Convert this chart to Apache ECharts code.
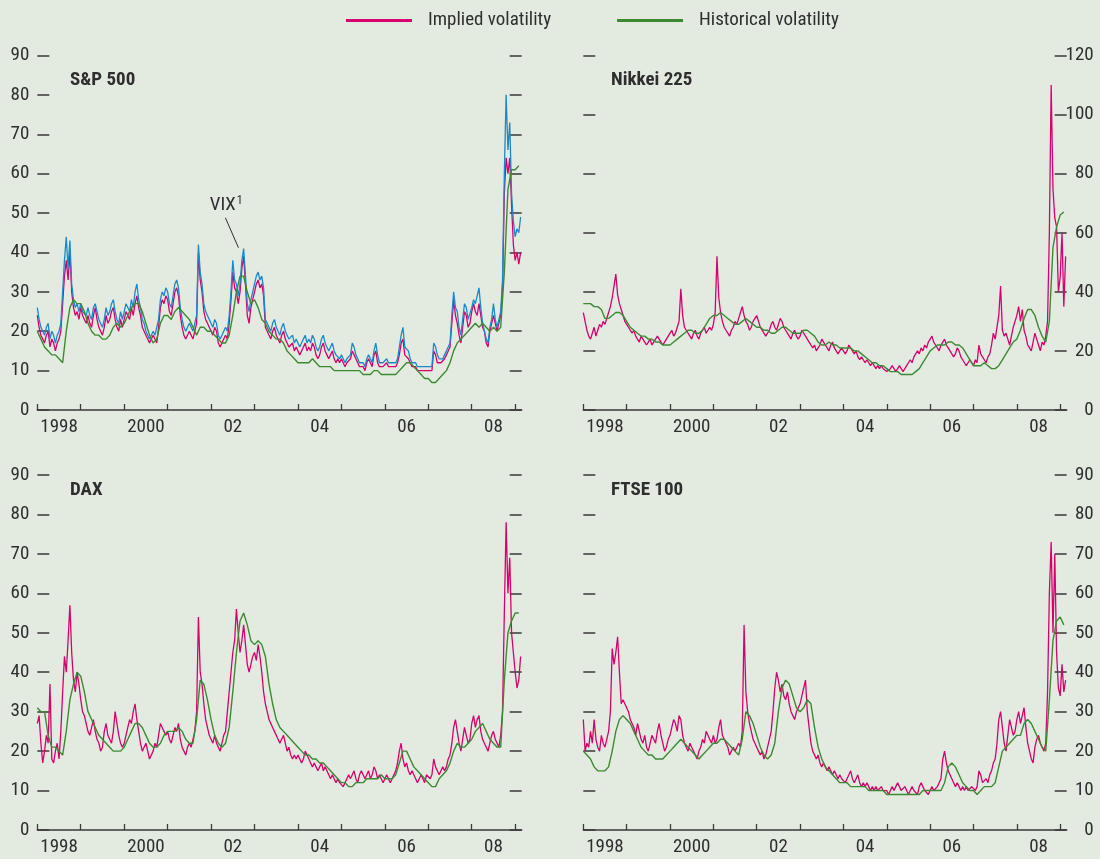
<!DOCTYPE html>
<html><head><meta charset="utf-8">
<script src="https://cdn.jsdelivr.net/npm/echarts@6/dist/echarts.min.js"></script>
<style>html,body{margin:0;padding:0;background:#e3ebe0}#c{width:1100px;height:859px}</style>
</head><body><div id="c"></div>
<script>
const FONT = '"Liberation Sans Narrow","Roboto Condensed","DejaVu Sans Condensed","Arial Narrow",sans-serif';
const MAG = '#d6006f', GRN = '#3b8a32', BLU = '#1c88c9', INK = '#2e2e2e', AX = '#3a3a3a';

const yearTicks = [1998,1999,2000,2001,2002,2003,2004,2005,2006,2007,2008,2009];
const tickLabelPos = [1998.5,2000.5,2002.5,2004.5,2006.5,2008.5];
const tickLabels = ['1998','2000','02','04','06','08'];
const panelTitles = ['S&P 500','Nikkei 225','DAX','FTSE 100'];
const legendNames = ['Implied volatility','Historical volatility'];

// implied: twice-monthly readings, Jan 1998 - Feb 2009
const spxImplied = [
24,21,19,18,17,19,20,16,18,17,15,17,18,20,27,34,38,33,40,30,26,24,25,23,
26,24,23,22,24,22,21,24,26,23,21,20,19,21,24,22,23,25,26,23,21,20,23,21,
23,25,24,23,26,24,27,29,26,24,21,20,19,18,17,18,19,18,17,21,26,28,27,29,
28,25,24,27,30,31,29,24,21,19,18,19,20,19,18,20,22,40,33,30,25,23,22,21,
21,19,21,20,17,16,17,18,19,18,22,28,35,31,30,27,30,36,39,32,24,22,26,28,
30,32,33,31,32,29,21,20,19,18,20,21,19,18,17,19,20,18,17,16,16,17,15,16,
15,14,15,16,17,15,16,15,17,16,14,13,14,16,17,15,14,13,14,15,13,12,13,12,
13,12,11,12,12,13,15,14,13,12,11,11,11,10,12,13,12,11,14,15,12,11,11,11,
11,12,11,11,11,11,11,12,14,17,18,14,14,13,12,11,11,11,10,10,10,10,10,10,
10,10,10,15,14,12,12,12,12,13,14,15,16,22,28,24,22,19,17,21,25,24,21,22,
25,27,25,24,27,24,21,20,17,16,20,22,24,22,20,20,24,31,55,64,60,64,52,42,
38,40,37,40];
const spxVix = [
26,23,21,20,19,21,22,18,20,19,17,19,20,22,30,38,44,36,43,32,28,26,27,25,
27,25,25,24,26,24,23,26,27,25,23,22,21,23,26,24,25,27,28,25,23,22,25,23,
25,27,26,25,28,26,30,32,28,26,23,22,20,19,18,19,20,19,19,23,28,30,29,31,
30,27,26,29,32,33,31,26,23,21,20,21,22,21,20,22,24,42,35,32,27,25,24,23,
23,21,23,22,19,18,19,20,21,20,24,30,38,33,32,29,32,38,41,34,27,25,28,30,
32,34,35,33,34,31,23,22,21,20,22,23,21,20,19,21,22,20,19,18,18,19,17,18,
17,16,17,18,19,17,18,17,19,18,16,15,16,18,19,17,16,15,16,17,15,14,14,13,
14,13,12,13,13,14,17,16,14,13,12,12,12,11,13,14,13,12,15,17,14,12,12,12,
12,13,12,12,12,12,12,13,16,19,21,16,16,15,13,12,12,12,11,11,11,11,11,11,
11,11,11,17,16,14,13,13,13,14,15,16,17,24,30,26,25,21,19,23,27,26,23,23,
26,28,27,29,31,26,22,20,18,17,21,23,27,23,21,21,25,33,60,80,66,73,55,48,
44,46,45,49];
const nkyImplied = [
33,30,27,25,24,26,28,25,27,29,28,30,29,31,33,35,38,42,46,39,36,34,32,30,
29,28,27,26,27,25,24,23,25,24,23,22,23,24,22,23,24,25,24,23,22,23,24,25,
26,27,25,26,28,30,41,32,28,27,26,25,24,26,27,25,24,26,27,28,26,27,28,27,
29,33,52,38,33,30,28,27,26,25,27,28,30,29,31,33,35,32,30,29,27,28,30,31,
32,30,28,27,26,25,26,27,29,30,28,27,29,31,30,28,27,26,25,24,26,27,25,24,
25,27,26,25,24,23,22,21,22,20,21,22,24,23,22,21,20,22,23,21,20,19,20,21,
20,19,20,22,21,20,19,20,18,17,18,17,16,17,16,15,16,15,14,15,14,15,14,14,
13,13,14,15,14,13,14,15,14,13,14,15,16,17,16,18,19,20,19,21,20,22,21,23,
24,25,23,22,21,20,22,23,24,22,21,20,19,18,19,21,20,18,17,16,15,16,17,16,
15,17,16,22,19,18,17,16,18,19,22,26,24,28,32,42,27,25,26,24,22,25,28,30,
32,35,30,34,27,25,22,21,20,23,26,24,22,20,23,22,25,30,60,110,75,65,62,40,
45,60,35,52];
const daxImplied = [
27,29,22,17,20,24,22,37,18,17,20,22,18,25,35,44,40,48,57,45,38,35,40,37,
33,30,29,27,25,24,26,28,25,23,22,20,21,25,27,24,23,22,25,30,27,24,22,21,
22,24,26,28,27,30,32,28,25,22,20,21,22,20,18,19,20,22,21,24,27,26,25,24,
25,23,22,24,26,25,27,23,21,20,19,21,22,21,23,25,30,54,40,37,32,28,26,24,
23,22,24,22,21,20,22,24,25,30,35,40,45,48,56,50,45,48,52,47,42,40,42,44,
45,43,47,44,40,35,32,30,28,27,26,25,24,23,22,23,24,22,20,21,19,18,19,18,
19,18,17,18,20,19,18,17,16,17,16,15,16,17,15,16,15,14,13,14,13,12,13,12,
12,11,12,13,14,13,14,15,13,12,14,15,14,13,14,15,13,14,16,15,13,14,13,12,
13,14,13,12,13,14,15,17,20,22,18,16,17,15,14,15,14,13,12,13,14,13,12,14,
14,13,14,18,16,15,14,15,16,15,16,18,19,22,26,28,25,22,20,23,26,24,22,23,
27,29,26,28,29,25,23,22,21,20,22,24,25,23,22,21,24,30,55,78,60,69,50,45,
40,36,38,44];
const ftseImplied = [
28,20,22,21,25,22,28,23,21,20,24,22,21,23,25,30,46,42,45,49,40,32,33,32,
31,30,28,27,26,24,27,25,23,22,24,21,20,22,24,23,22,25,27,24,22,20,21,23,
24,26,28,27,25,29,28,24,22,21,20,22,21,20,19,18,20,21,23,22,25,24,23,22,
24,22,23,26,28,24,23,22,21,19,20,21,20,21,22,21,25,52,35,30,27,25,23,22,
21,20,19,20,18,19,21,23,25,30,36,40,38,35,37,34,33,35,32,30,29,28,30,31,
32,34,36,38,30,26,22,20,19,18,19,17,16,17,16,15,16,15,14,15,14,13,14,13,
13,12,13,14,15,13,12,13,14,12,11,12,11,12,11,10,11,10,11,10,10,11,10,10,
10,9,10,11,10,11,12,11,10,10,11,10,9,10,11,10,10,9,11,12,11,10,10,9,
10,11,10,10,11,12,13,18,20,17,15,14,13,12,11,12,11,10,11,10,11,10,10,11,
11,10,11,15,14,12,12,13,12,14,15,17,18,22,28,30,26,22,20,24,28,26,24,25,
28,30,27,29,31,26,22,20,18,17,21,23,24,22,21,20,22,35,60,73,50,70,45,36,
34,42,35,38];

// historical: monthly readings, Jan 1998 - Feb 2009
const spxHist = [
20,18,16,15,14,14,13,12,20,26,28,27,
27,25,22,20,19,19,18,18,19,21,22,21,
22,24,26,27,27,25,22,19,17,18,22,24,
24,23,25,26,25,24,23,21,19,21,21,20,
20,19,18,17,17,19,24,30,34,34,30,27,
28,26,23,22,20,19,18,18,17,15,14,13,
12,12,12,12,13,12,11,11,11,11,10,10,
10,10,10,10,10,10,9,9,9,10,10,9,
9,9,9,9,10,11,12,12,11,10,9,8,
8,7,7,8,9,10,12,15,17,18,19,20,
21,22,21,22,21,20,21,20,21,35,56,61,
61,62];
const nkyHist = [
36,36,36,35,35,34,31,31,32,33,33,32,
30,28,27,26,25,25,24,24,23,23,22,22,
22,23,24,25,26,27,27,26,26,27,29,31,
32,32,33,32,31,30,29,29,30,31,30,29,
28,28,27,27,26,26,27,28,28,27,26,26,
26,27,27,26,25,23,22,22,23,22,22,21,
21,21,21,20,20,19,18,17,16,16,15,15,
14,13,13,13,12,12,12,12,13,14,16,18,
20,21,22,22,22,23,23,22,22,21,19,17,
15,15,15,16,15,14,14,15,17,19,21,23,
24,27,31,34,34,32,28,25,23,30,55,62,
66,67];
const daxHist = [
31,30,30,24,21,21,20,19,25,33,37,40,
39,35,30,28,26,24,23,22,21,20,20,20,
21,23,25,27,27,26,24,22,21,21,22,24,
25,25,25,26,25,23,22,22,28,38,37,33,
28,24,22,21,22,26,35,45,53,55,52,48,
47,48,47,44,37,32,28,26,25,24,23,22,
21,20,19,19,18,18,17,17,16,15,14,13,
12,12,11,11,12,12,12,13,13,13,13,14,
13,13,13,14,17,20,20,18,16,15,14,13,
12,11,11,13,14,15,17,20,22,21,21,22,
23,25,26,27,25,23,22,21,21,38,50,53,
55,55];
const ftseHist = [
20,19,18,16,15,15,15,16,20,25,28,29,
28,27,25,23,21,20,19,19,18,18,18,19,
20,21,22,23,22,21,20,19,18,19,20,21,
22,22,23,23,22,21,20,19,23,30,29,27,
24,21,19,18,19,22,30,36,38,37,34,31,
30,31,33,32,26,21,18,16,15,14,13,12,
12,12,11,11,11,11,11,10,10,10,10,10,
9,9,9,9,9,9,9,9,9,9,10,10,
10,10,10,10,12,16,17,16,14,12,11,10,
10,9,10,11,11,11,12,16,20,21,22,23,
24,24,27,28,27,25,23,21,20,33,48,53,
54,52];

// annotation (data coords in S&P panel): label anchor, leader line start, end
const vixNote = {text:[2002.35, 52], from:[2002.33, 48.8], to:[2002.63, 41.2]};

const semi = a => a.map((v,i) => [1998 + i/24, v]);
const monthly = a => a.map((v,i) => [1998 + i/12, v]);

const grids = [
  {left:37.3, top:55.5, width:484.4, height:354.5},
  {left:583.3, top:55.5, width:483.4, height:354.5},
  {left:37.3, top:475, width:484.4, height:355},
  {left:583.3, top:475, width:483.4, height:355}
];
const yMax = [90,120,90,90], yInt = [10,20,10,10];
const labelSide = ['left','right','left','right'];

const xAxes = grids.map((g,i) => ({
  gridIndex:i, type:'value', min:1998, max:2009.15,
  axisLine:{show:true, onZero:false, lineStyle:{color:AX, width:1.5}},
  axisTick:{show:true, inside:true, length:6, customValues:yearTicks, lineStyle:{color:AX, width:1.3}},
  axisLabel:{show:true, customValues:tickLabelPos, margin:8, color:INK, fontSize:19, fontFamily:FONT,
    formatter: v => { const k = tickLabelPos.findIndex(p => Math.abs(p - v) < 0.01); return k >= 0 ? tickLabels[k] : ''; }},
  splitLine:{show:false}
}));
const yAxes = [];
grids.forEach((g,i) => {
  ['left','right'].forEach(pos => {
    const lab = pos === labelSide[i];
    yAxes.push({
      gridIndex:i, type:'value', position:pos, min:0, max:yMax[i], interval:yInt[i],
      axisLine:{show:false},
      axisTick:{show:true, inside:true, length:12, lineStyle:{color:AX, width:1.5}},
      axisLabel:{show:lab, color:INK, fontSize:19, fontFamily:FONT, align:'right', margin: pos==='left' ? 8 : 27},
      splitLine:{show:false}
    });
  });
});

const lineS = (name, g, data, color, z, w) => ({
  type:'line', name, xAxisIndex:g, yAxisIndex:g*2, data, showSymbol:false, symbol:'none',
  lineStyle:{color, width:w}, itemStyle:{color}, z, animation:false, silent:true
});

const series = [
  lineS(legendNames[0], 0, semi(spxImplied), MAG, 2, 1.3),
  lineS('VIX', 0, semi(spxVix), BLU, 3, 1.3),
  lineS(legendNames[1], 0, monthly(spxHist), GRN, 4, 1.4),
  lineS(legendNames[0], 1, semi(nkyImplied), MAG, 2, 1.3),
  lineS(legendNames[1], 1, monthly(nkyHist), GRN, 4, 1.4),
  lineS(legendNames[0], 2, semi(daxImplied), MAG, 2, 1.3),
  lineS(legendNames[1], 2, monthly(daxHist), GRN, 4, 1.4),
  lineS(legendNames[0], 3, semi(ftseImplied), MAG, 2, 1.3),
  lineS(legendNames[1], 3, monthly(ftseHist), GRN, 4, 1.4)
];

const titlePos = [[70,71],[611,71],[70,481],[611,481]];
const chart = echarts.init(document.getElementById('c'), null, {renderer:'canvas'});
chart.setOption({
  backgroundColor:'#e3ebe0',
  animation:false,
  title: panelTitles.map((t,i) => ({text:t, left:titlePos[i][0], top:titlePos[i][1], padding:0,
    textStyle:{fontSize:19, fontWeight:'bold', color:INK, fontFamily:FONT}})),
  legend:{data:legendNames, left:341, top:6, itemWidth:66, itemHeight:3, itemGap:66, icon:'rect',
    textStyle:{fontSize:19, color:INK, fontFamily:FONT, padding:[0,0,0,11]}, selectedMode:false},
  grid: grids,
  xAxis: xAxes,
  yAxis: yAxes,
  series
});

const pT = chart.convertToPixel({gridIndex:0}, vixNote.text);
const pA = chart.convertToPixel({gridIndex:0}, vixNote.from);
const pB = chart.convertToPixel({gridIndex:0}, vixNote.to);
chart.setOption({graphic:[
  {type:'text', x:pT[0], y:pT[1], style:{text:'VIX{s|1}', fill:INK, font:'19px '+FONT, textAlign:'center', textVerticalAlign:'middle',
    rich:{s:{fontSize:12, verticalAlign:'top', fill:INK, fontFamily:FONT, padding:[0,0,8,1]}}}},
  {type:'line', shape:{x1:pA[0], y1:pA[1], x2:pB[0], y2:pB[1]}, style:{stroke:INK, lineWidth:1}}
]});
</script></body></html>
